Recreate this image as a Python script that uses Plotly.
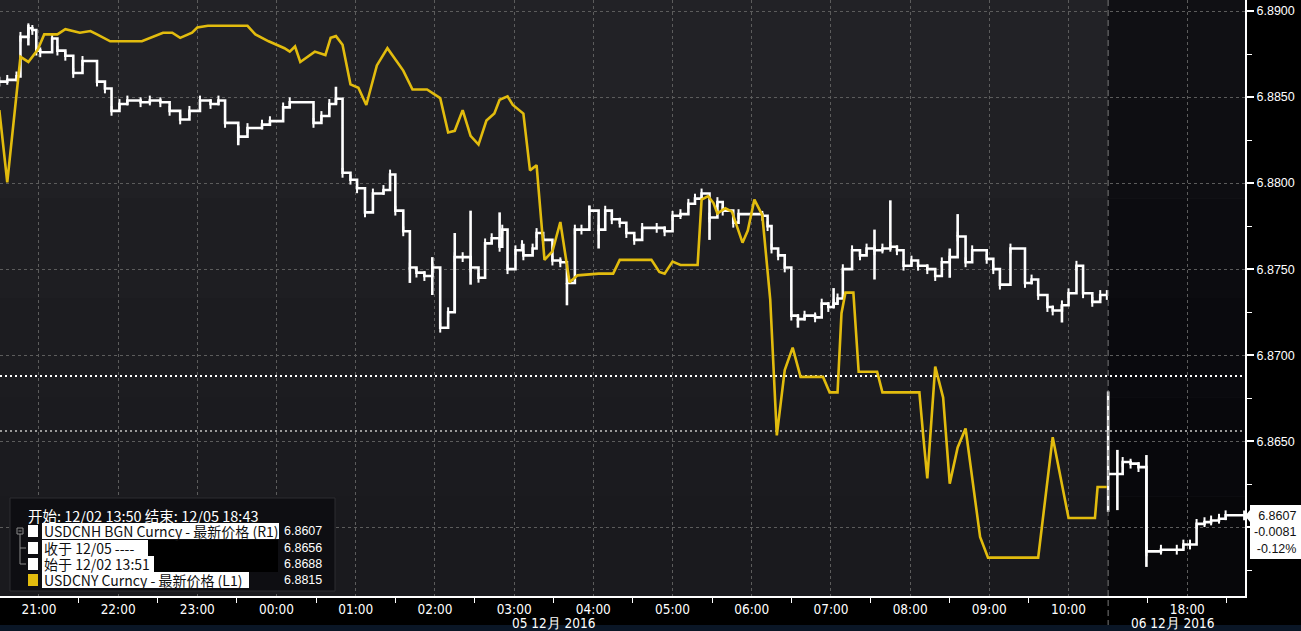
import plotly.graph_objects as go

# ---------------- data ----------------
# USDCNH (white, right axis) - session 1 (Dec 4 20:30 -> Dec 5 10:29)
cnh_t1 = ["20:30","20:36","20:43","20:46","20:52","20:55","20:58","21:01","21:10","21:14",
          "21:20","21:26","21:33","21:44","21:50","21:55","22:01","22:07","22:17","22:24",
          "22:32","22:39","22:47","22:54","23:02","23:10","23:16","23:21","23:31","23:38",
          "23:49","23:55","00:05","00:10","00:28","00:34","00:40","00:45","00:50","00:56",
          "01:01","01:07","01:13","01:21","01:26","01:30","01:36","01:41","01:46","01:52",
          "01:58","02:04","02:10","02:15","02:21","02:27","02:33","02:38","02:43","02:49",
          "02:51","02:55","03:01","03:06","03:07","03:14","03:17","03:22","03:29","03:35",
          "03:40","03:46","03:51","03:57","04:04","04:09","04:14","04:20","04:25","04:31",
          "04:37","04:48","04:54","05:00","05:06","05:12","05:17","05:22","05:28","05:34",
          "05:38","05:46","05:50","06:08","06:12","06:15","06:20","06:25","06:30","06:35",
          "06:40","06:48","06:53","06:58","07:02","07:05","07:09","07:16","07:22","07:27",
          "07:33","07:39","07:45","07:50","07:55","08:01","08:06","08:13","08:19","08:24",
          "08:30","08:36","08:42","08:47","08:58","09:03","09:08","09:16","09:27","09:32",
          "09:37","09:44","09:48","09:55","10:00","10:06","10:11","10:18","10:24","10:29"]
cnh_v1 = [6.8859,6.8860,6.8862,6.8885,6.8890,6.8889,6.8877,6.8876,6.8884,6.8877,
          6.8874,6.8864,6.8871,6.8859,6.8855,6.8842,6.8846,6.8848,6.8847,6.8848,
          6.8847,6.8842,6.8837,6.8842,6.8848,6.8846,6.8848,6.8835,6.8827,6.8832,
          6.8834,6.8836,6.8844,6.8847,6.8835,6.8839,6.8846,6.8849,6.8806,6.8802,
          6.8797,6.8783,6.8794,6.8796,6.8805,6.8784,6.8772,6.8751,6.8748,6.8746,
          6.8751,6.8716,6.8725,6.8757,6.8757,6.8751,6.8745,6.8765,6.8768,6.8763,
          6.8773,6.8750,6.8761,6.8764,6.8758,6.8762,6.8771,6.8767,6.8755,6.8754,
          6.8742,6.8773,6.8773,6.8784,6.8773,6.8784,6.8779,6.8777,6.8771,6.8767,
          6.8774,6.8774,6.8772,6.8781,6.8782,6.8788,6.8791,6.8794,6.8780,6.8789,
          6.8784,6.8777,6.8782,6.8781,6.8775,6.8762,6.8758,6.8751,6.8723,6.8721,
          6.8723,6.8722,6.8730,6.8728,6.8730,6.8733,6.8750,6.8761,6.8758,6.8762,
          6.8761,6.8762,6.8763,6.8761,6.8752,6.8755,6.8752,6.8750,6.8746,6.8754,
          6.8757,6.8769,6.8754,6.8761,6.8756,6.8750,6.8741,6.8762,6.8742,6.8744,
          6.8735,6.8728,6.8726,6.8729,6.8736,6.8752,6.8736,6.8731,6.8735,6.8735]

# USDCNH - session 2 (17:00 -> 18:43)
cnh_t2 = ["17:00","17:11","17:17","17:23","17:29","17:40","17:52","17:57","18:02","18:07",
          "18:13","18:18","18:24","18:29","18:43"]
cnh_v2 = [6.8631,6.8638,6.8637,6.8635,6.8586,6.8587,6.8587,6.8590,6.8590,6.8602,
          6.8603,6.8604,6.8605,6.8607,6.8607]

# intrabar high/low spikes
spk_sess = [1,1,1,1,1,1,1,1,1,1,1,1,1,1,1,1,1,1,1,2,2,2]
spk_t = ["20:52","23:31","00:45","01:41","01:58","02:15","02:27","02:49","03:40","03:57",
         "04:04","05:28","06:35","07:02","07:33","07:45","08:30","08:36","09:55",
         "17:00","17:07","17:29"]
spk_lo = [6.8880,6.8822,6.8846,6.8742,6.8735,6.8725,6.8741,6.8763,6.8729,6.8784,
          6.8762,6.8767,6.8716,6.8728,6.8744,6.8763,6.8745,6.8769,6.8719,
          6.8609,6.8610,6.8577]
spk_hi = [6.8892,6.8833,6.8856,6.8751,6.8757,6.8771,6.8784,6.8783,6.8742,6.8787,
          6.8773,6.8780,6.8721,6.8739,6.8773,6.8790,6.8762,6.8782,6.8729,
          6.8679,6.8645,6.8642]

# USDCNY (yellow, left axis L1)
cny_t = ["20:30","20:36","20:46","20:52","20:59","21:04","21:14","21:20","21:31","21:39",
         "21:44","21:54","22:18","22:28","22:34","22:41","22:47","22:56","23:00","23:08",
         "23:38","23:44","23:54","00:06","00:10","00:14","00:18","00:29","00:37","00:41",
         "00:45","00:50","00:56","01:02","01:08","01:16","01:24","01:36","01:43","01:54",
         "02:04","02:10","02:15","02:21","02:27","02:33","02:39","02:45","02:49","02:55",
         "02:59","03:07","03:12","03:17","03:23","03:29","03:35","03:42","03:48","04:04",
         "04:15","04:20","04:44","04:50","04:54","05:00","05:06","05:19","05:22","05:27",
         "05:31","05:34","05:40","05:45","05:53","05:57","06:02","06:08","06:14","06:19",
         "06:25","06:31","06:37","06:54","06:59","07:05","07:08","07:11","07:17","07:21",
         "07:35","07:39","08:07","08:10","08:13","08:19","08:25","08:30","08:36","08:42",
         "08:47","08:53","08:59","09:37","09:48","10:00","10:20","10:22","10:29"]
cny_v = [6.9034,6.8992,6.9065,6.9062,6.9069,6.9078,6.9078,6.9081,6.9079,6.9080,
         6.9078,6.9074,6.9074,6.9077,6.9079,6.9079,6.9076,6.9079,6.9082,6.9083,
         6.9083,6.9078,6.9074,6.9070,6.9068,6.9071,6.9062,6.9068,6.9066,6.9076,
         6.9077,6.9072,6.9049,6.9047,6.9037,6.9060,6.9070,6.9057,6.9046,6.9046,
         6.9041,6.9021,6.9022,6.9034,6.9019,6.9014,6.9028,6.9032,6.9040,6.9042,
         6.9037,6.9032,6.8999,6.9002,6.8947,6.8952,6.8969,6.8934,6.8938,6.8939,
         6.8939,6.8947,6.8947,6.8940,6.8939,6.8946,6.8944,6.8944,6.8982,6.8984,
         6.8980,6.8974,6.8977,6.8975,6.8957,6.8964,6.8982,6.8973,6.8924,6.8845,
         6.8883,6.8896,6.8879,6.8879,6.8870,6.8870,6.8916,6.8928,6.8928,6.8882,
         6.8882,6.8870,6.8870,6.8844,6.8820,6.8885,6.8867,6.8817,6.8838,6.8849,
         6.8821,6.8786,6.8774,6.8774,6.8844,6.8797,6.8797,6.8815,6.8815]

# axis labels
tick_s1 = ["21:00","22:00","23:00","00:00","01:00","02:00","03:00","04:00","05:00",
           "06:00","07:00","08:00","09:00","10:00"]
tick_s2 = ["18:00"]
minor_s1 = ["20:30","21:30","22:30","23:30","00:30","01:30","02:30","03:30","04:30","05:30",
            "06:30","07:30","08:30","09:30"]
minor_s2 = ["17:30","18:30"]
date_labels = ["05 12月 2016", "06 12月 2016"]
y_ticks = [6.8600, 6.8650, 6.8700, 6.8750, 6.8800, 6.8850, 6.8900]

open_ref = 6.8688   # 始于 12/02 13:51
close_ref = 6.8656  # 收于 12/05
last_cnh = 6.8607
last_chg = "-0.0081"
last_pct = "-0.12%"
last_cny = 6.8815
legend_title = "开始: 12/02 13:50 结束: 12/05 18:43"
legend_rows = ["USDCNH BGN Curncy - 最新价格 (R1)", "收于 12/05 ----", "始于 12/02 13:51",
               "USDCNY Curncy - 最新价格 (L1)"]
legend_vals = [last_cnh, close_ref, open_ref, last_cny]

# ---------------- helpers (time -> compressed axis position, minutes) ----------------
SESSION2_START = 870  # axis position where the second session starts (17:00)


def pos1(s):
    h, m = map(int, s.split(":"))
    mins = h * 60 + m
    if h < 20:
        mins += 1440
    return mins - 1200


def pos2(s):
    h, m = map(int, s.split(":"))
    return SESSION2_START + (h * 60 + m - 17 * 60)


W, H = 1301, 631
PL, PR, PT, PB = 0, 1245, 0, 596   # plot box in pixels


def X(px):
    return (px - PL) / (PR - PL)


def Y(py):
    return (PB - py) / (PB - PT)


YELLOW = "#e2bc0e"
FONT_NARROW = "Liberation Sans Narrow, DejaVu Sans Condensed, Arial Narrow, sans-serif"
FONT_CJK = "Noto Sans CJK SC, Noto Sans, sans-serif"

fig = go.Figure()

# yellow
fig.add_trace(go.Scatter(x=[pos1(t) for t in cny_t], y=cny_v, yaxis="y2", mode="lines",
                         line=dict(color=YELLOW, width=2.6), hoverinfo="skip"))

# spikes
sx, sy = [], []
for ss, t, lo, hi in zip(spk_sess, spk_t, spk_lo, spk_hi):
    p = pos1(t) if ss == 1 else pos2(t)
    sx += [p, p, None]
    sy += [lo, hi, None]
fig.add_trace(go.Scatter(x=sx, y=sy, mode="lines", line=dict(color="white", width=2.6),
                         hoverinfo="skip", connectgaps=False))

for tt, vv, f in ((cnh_t1, cnh_v1, pos1), (cnh_t2, cnh_v2, pos2)):
    fig.add_trace(go.Scatter(x=[f(t) for t in tt], y=vv, mode="lines+markers",
                             line=dict(color="white", width=2.6, shape="hv"),
                             marker=dict(symbol="line-ns-open", size=7,
                                         line=dict(color="white", width=2)),
                             hoverinfo="skip"))

shapes = []
# background bands
bands = ["#222226", "#202024", "#1e1e22", "#1c1c20", "#1b1b1f", "#1a1a1e"]
bands2 = ["#101014", "#0e0e12", "#0c0c10", "#0a0a0e", "#08080c", "#07070a"]
n = len(bands)
for i in range(n):
    y1 = 1 - i / n
    y0 = 1 - (i + 1) / n
    shapes.append(dict(type="rect", xref="paper", yref="paper", x0=0, x1=1, y0=y0, y1=y1,
                       fillcolor=bands[i], line=dict(width=0), layer="below"))
    shapes.append(dict(type="rect", xref="x", yref="paper", x0=SESSION2_START, x1=2000,
                       y0=y0, y1=y1, fillcolor=bands2[i], line=dict(width=0), layer="below"))

# reference dotted lines
shapes.append(dict(type="line", xref="paper", yref="y", x0=0, x1=1, y0=open_ref, y1=open_ref,
                   line=dict(color="white", width=2, dash="2px,3px"), layer="between"))
shapes.append(dict(type="line", xref="paper", yref="y", x0=0, x1=1, y0=close_ref, y1=close_ref,
                   line=dict(color="#9a9a9a", width=2, dash="2px,3px"), layer="between"))
# session separator
shapes.append(dict(type="line", xref="x", yref="paper", x0=SESSION2_START, x1=SESSION2_START,
                   y0=Y(626), y1=1, line=dict(color="#7a7a7a", width=1, dash="6px,4px")))
# bottom strip
shapes.append(dict(type="rect", xref="paper", yref="paper", x0=0, x1=X(W), y0=Y(H + 2), y1=Y(625),
                   fillcolor="#0a1626", line=dict(width=0)))

# legend box
shapes.append(dict(type="rect", xref="paper", yref="paper", x0=X(10), x1=X(335), y0=Y(591),
                   y1=Y(498), fillcolor="#0e0e12", line=dict(color="#2c2c30", width=1)))
shapes.append(dict(type="rect", xref="paper", yref="paper", x0=X(148), x1=X(278), y0=Y(572),
                   y1=Y(540), fillcolor="black", line=dict(width=0)))
row_y = [531, 548, 564, 580]
row_hl_end = [279, 148, 154, 249]   # right end of white highlight behind each row label
for i, ry in enumerate(row_y):
    shapes.append(dict(type="rect", xref="paper", yref="paper", x0=X(42), x1=X(row_hl_end[i]),
                       y0=Y(ry + 8), y1=Y(ry - 8), fillcolor="white", line=dict(width=0)))
    shapes.append(dict(type="rect", xref="paper", yref="paper", x0=X(28), x1=X(38),
                       y0=Y(ry + 6), y1=Y(ry - 6),
                       fillcolor=YELLOW if i == 3 else "white", line=dict(width=0)))
# tree connector
tc = "#8a8a8a"
shapes.append(dict(type="rect", xref="paper", yref="paper", x0=X(17), x1=X(23), y0=Y(534),
                   y1=Y(528), line=dict(color=tc, width=1)))
shapes.append(dict(type="line", xref="paper", yref="paper", x0=X(18.5), x1=X(21.5), y0=Y(531),
                   y1=Y(531), line=dict(color=tc, width=1)))
shapes.append(dict(type="line", xref="paper", yref="paper", x0=X(20), x1=X(20), y0=Y(564),
                   y1=Y(534), line=dict(color=tc, width=1)))
for ry in row_y[1:3]:
    shapes.append(dict(type="line", xref="paper", yref="paper", x0=X(20), x1=X(26), y0=Y(ry),
                       y1=Y(ry), line=dict(color=tc, width=1)))

# last value box with pointer
bx0, bx1, by0, by1, tip = 1250, 1303, 505, 559, 516
path = (f"M {X(1245)} {Y(tip)} L {X(bx0)} {Y(tip-6)} L {X(bx0)} {Y(by0)} L {X(bx1)} {Y(by0)} "
        f"L {X(bx1)} {Y(by1)} L {X(bx0)} {Y(by1)} L {X(bx0)} {Y(tip+6)} Z")
shapes.append(dict(type="path", xref="paper", yref="paper", path=path, fillcolor="white",
                   line=dict(width=0)))

annotations = []
annotations.append(dict(xref="paper", yref="paper", x=X(26), y=Y(515), xanchor="left",
                        yanchor="middle", text=legend_title, showarrow=False,
                        font=dict(family=FONT_CJK, size=14.5, color="white")))
for i, (ry, txt, val) in enumerate(zip(row_y, legend_rows, legend_vals)):
    annotations.append(dict(xref="paper", yref="paper", x=X(42), y=Y(ry), xanchor="left",
                            yanchor="middle", text=txt, showarrow=False,
                            font=dict(family=FONT_CJK, size=14, color="#101010")))
    annotations.append(dict(xref="paper", yref="paper", x=X(324), y=Y(ry), xanchor="right",
                            yanchor="middle", text=f"{val:.4f}", showarrow=False,
                            font=dict(family="Liberation Sans, sans-serif", size=12.5,
                                      color="white")))
annotations.append(dict(xref="paper", yref="paper", x=X(1298), y=Y(532), xanchor="right",
                        yanchor="middle", align="right", showarrow=False,
                        text=f"{last_cnh:.4f}<br>{last_chg}<br>{last_pct}",
                        font=dict(family="Liberation Sans, sans-serif", size=12.5,
                                  color="#111111")))
# date labels
s1_positions = [pos1(t) for t in tick_s1]
annotations.append(dict(xref="x", yref="paper", x=(s1_positions[0] + s1_positions[-1]) / 2,
                        y=Y(623), xanchor="center", yanchor="middle", text=date_labels[0],
                        showarrow=False, font=dict(family=FONT_NARROW, size=13.5, color="white")))
annotations.append(dict(xref="x", yref="paper", x=pos2(tick_s2[0]) - 11, y=Y(623),
                        xanchor="center", yanchor="middle", text=date_labels[1],
                        showarrow=False, font=dict(family=FONT_NARROW, size=13.5, color="white")))

tickvals = s1_positions + [pos2(t) for t in tick_s2]
ticktext = tick_s1 + tick_s2
minor_vals = [pos1(t) for t in minor_s1] + [pos2(t) for t in minor_s2]

fig.update_layout(
    width=W, height=H, autosize=False,
    margin=dict(l=PL, r=W - PR, t=PT, b=H - PB, pad=0),
    paper_bgcolor="black", plot_bgcolor="#1d1d21",
    showlegend=False, hovermode=False,
    shapes=shapes, annotations=annotations,
    xaxis=dict(range=[30.5, 30.5 + (PR - PL) * 60 / 79.2], tickmode="array",
               tickvals=tickvals, ticktext=ticktext, ticks="", showgrid=True,
               gridcolor="#5c5c5c", gridwidth=1, griddash="3px,3px", zeroline=False,
               showline=True, linecolor="white", linewidth=2,
               tickfont=dict(family=FONT_NARROW, size=13.5, color="white"),
               minor=dict(tickmode="array", tickvals=minor_vals, ticks="outside", ticklen=5,
                          tickcolor="white", tickwidth=1, showgrid=False)),
    yaxis=dict(side="right", range=[6.85601, 6.89064], tickmode="array", tickvals=y_ticks,
               ticktext=["" if v < 6.8625 else f"{v:.4f}" for v in y_ticks],
               ticks="outside", ticklen=7, tickwidth=2, tickcolor="white",
               showgrid=True, gridcolor="#5c5c5c", gridwidth=1, griddash="3px,3px",
               zeroline=False, showline=True, linecolor="white", linewidth=2,
               tickfont=dict(family="Liberation Sans, sans-serif", size=12.5, color="white"),
               minor=dict(dtick=0.0025, tick0=6.8575, ticks="outside", ticklen=5,
                          tickcolor="white", tickwidth=1, showgrid=False)),
    yaxis2=dict(overlaying="y", side="left", range=[6.87517, 6.90980], visible=False),
)

fig.write_html("out.html", config={"displayModeBar": False},
               post_script="document.body.style.margin='0';")
